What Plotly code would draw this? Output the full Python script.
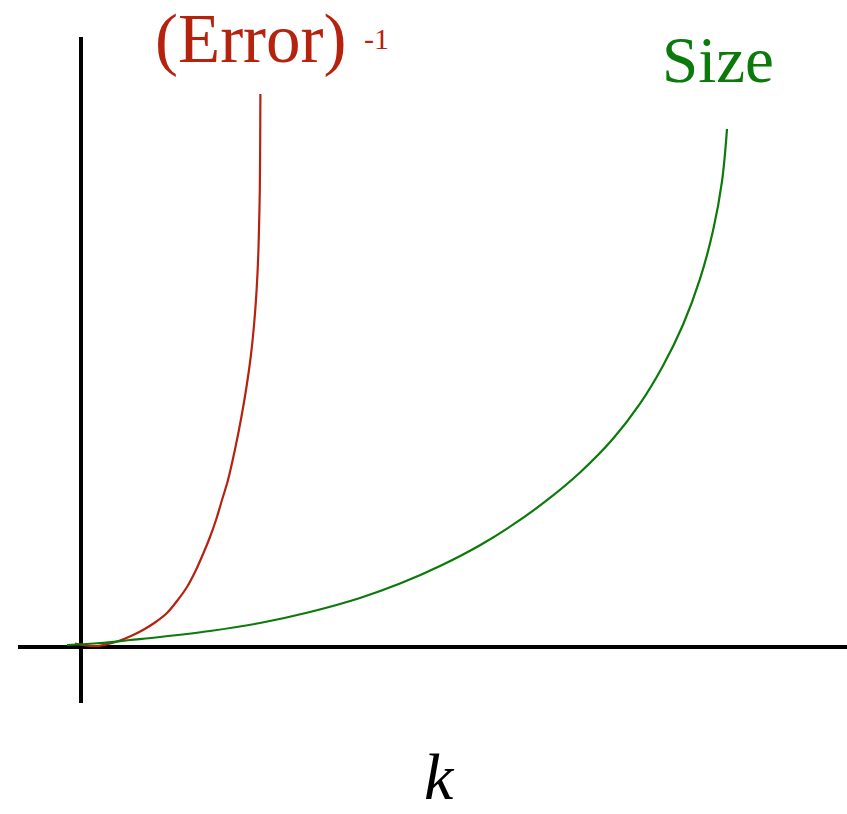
import plotly.graph_objects as go

# Data (arbitrary units: k along x, value along y)
err_k = [-0.06, 0.05, 0.16, 0.27, 0.39, 0.50, 0.62, 0.74, 0.86, 0.96, 1.06,
         1.145, 1.225, 1.29, 1.35, 1.41, 1.47, 1.545, 1.602, 1.65, 1.697,
         1.732, 1.756, 1.772, 1.782, 1.788, 1.792, 1.794]
err_inv = [0.035, 0.015, 0.01, 0.03, 0.065, 0.11, 0.17, 0.245, 0.34, 0.46, 0.60,
           0.76, 0.94, 1.10, 1.27, 1.47, 1.67, 2.00, 2.29, 2.57, 2.90,
           3.24, 3.57, 3.90, 4.27, 4.57, 5.07, 5.53]

size_k = [-0.14, 0.19, 0.49, 0.79, 1.29, 1.79, 2.29, 2.79, 3.19, 3.59, 3.99,
          4.32, 4.66, 4.99, 5.32, 5.59, 5.82, 6.02, 6.19, 6.32, 6.41, 6.46]
size_val = [0.02, 0.04, 0.07, 0.10, 0.16, 0.24, 0.35, 0.49, 0.634, 0.81, 1.018,
            1.223, 1.468, 1.745, 2.082, 2.433, 2.812, 3.222, 3.681, 4.162, 4.657, 5.18]

RED = "#b5220e"
GREEN = "#0b7a0b"
FONT = "Liberation Serif"

fig = go.Figure()
fig.add_trace(go.Scatter(x=err_k, y=err_inv, mode="lines",
                         line=dict(color=RED, width=2.2, shape="spline", smoothing=1.0),
                         hoverinfo="skip", showlegend=False))
fig.add_trace(go.Scatter(x=size_k, y=size_val, mode="lines",
                         line=dict(color=GREEN, width=2.2, shape="spline", smoothing=1.0),
                         hoverinfo="skip", showlegend=False))

fig.update_layout(
    width=847, height=814,
    margin=dict(l=18, r=0, t=37, b=111),
    paper_bgcolor="white", plot_bgcolor="white",
    xaxis=dict(range=[-0.63, 7.66], showgrid=False, showticklabels=False, ticks="",
               zeroline=True, zerolinecolor="black", zerolinewidth=4, showline=False,
               fixedrange=True),
    yaxis=dict(range=[-0.56, 6.10], showgrid=False, showticklabels=False, ticks="",
               zeroline=True, zerolinecolor="black", zerolinewidth=4, showline=False,
               fixedrange=True),
    annotations=[
        dict(text="(Error)", x=0.281, y=1.0556, xref="paper", yref="paper",
             xanchor="center", yanchor="top", showarrow=False, borderpad=0,
             font=dict(family=FONT, size=69, color=RED)),
        dict(text="-1", x=0.432, y=0.997, xref="paper", yref="paper",
             xanchor="center", yanchor="middle", showarrow=False,
             font=dict(family=FONT, size=30, color=RED)),
        dict(text="Size", x=0.844, y=0.965, xref="paper", yref="paper",
             xanchor="center", yanchor="middle", showarrow=False,
             font=dict(family=FONT, size=65, color=GREEN)),
        dict(text="<i>k</i>", x=0.509, y=-0.1667, xref="paper", yref="paper",
             xanchor="center", yanchor="bottom", showarrow=False, borderpad=0,
             font=dict(family=FONT, size=66, color="black")),
    ],
)

fig.write_html(
    "out.html",
    config={"displayModeBar": False, "staticPlot": True},
    post_script="document.body.style.margin='0';"
                "document.documentElement.style.overflow='hidden';"
                "document.body.style.overflow='hidden';",
)
